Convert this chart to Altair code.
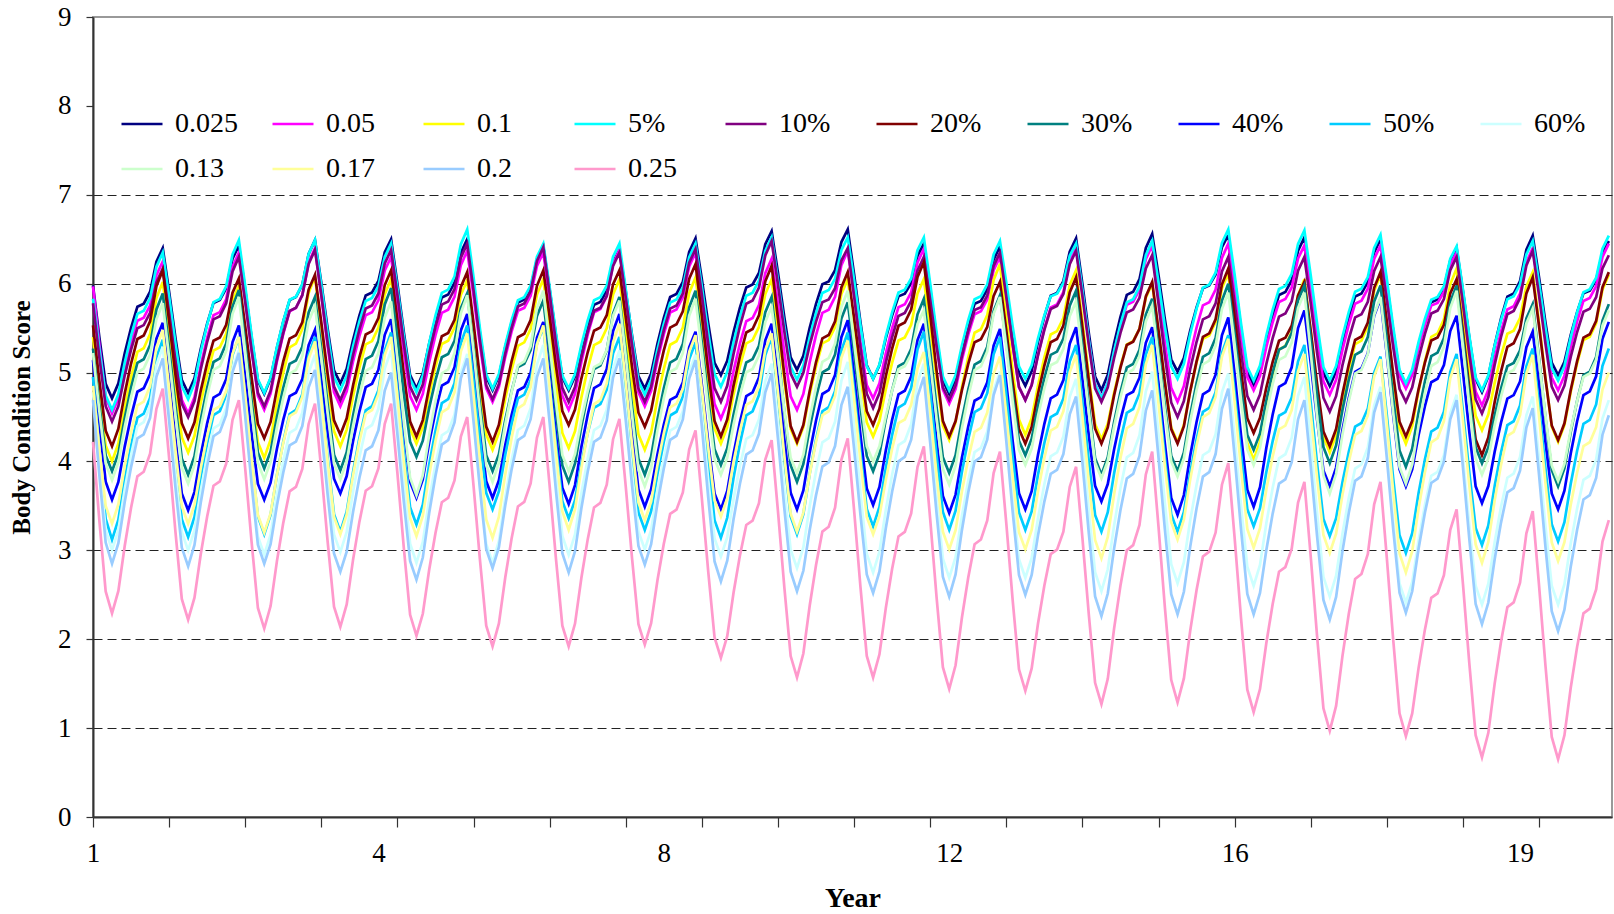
import altair as alt
import pandas as pd

# ---- series (legend order) and colours ----
SERIES = ["0.025", "0.05", "0.1", "5%", "10%", "20%", "30%", "40%", "50%", "60%",
          "0.13", "0.17", "0.2", "0.25"]
COLORS = ["#000080", "#FF00FF", "#FFFF00", "#00FFFF", "#800080", "#800000", "#008080",
          "#0000FF", "#00CCFF", "#CCFFFF", "#CCFFCC", "#FFFF99", "#99CCFF", "#FF99CC"]

# value of each series in the first month
START = [5.98, 5.97, 5.40, 5.83, 5.78, 5.53, 5.27, 5.14, 4.95, 4.78, 5.22, 4.85, 4.69, 4.22]

# yearly minimum (4th month of each year)
T_0025 = [4.71, 4.77, 4.76, 4.88, 4.82, 4.80, 4.80, 4.82, 4.97, 5.03, 4.93, 4.76, 4.85, 4.80, 5.01, 4.86, 4.85, 4.84, 4.78, 4.97]
T_005 = [4.54, 4.54, 4.58, 4.62, 4.58, 4.67, 4.58, 4.62, 4.48, 4.58, 4.71, 4.65, 4.69, 4.72, 4.67, 4.80, 4.75, 4.82, 4.63, 4.80]
T_01 = [4.00, 4.10, 4.04, 4.17, 4.20, 4.13, 4.15, 4.13, 4.20, 4.20, 4.28, 4.24, 4.30, 4.25, 4.22, 4.02, 4.10, 4.20, 4.35, 4.22]
T_5P = [4.58, 4.70, 4.77, 4.80, 4.78, 4.82, 4.82, 4.75, 4.84, 4.92, 4.93, 4.80, 4.93, 4.71, 4.93, 4.91, 4.91, 4.88, 4.80, 4.91]
T_10P = [4.45, 4.50, 4.62, 4.69, 4.69, 4.70, 4.67, 4.67, 4.67, 4.84, 4.60, 4.69, 4.69, 4.67, 4.50, 4.58, 4.56, 4.67, 4.54, 4.69]
T_20P = [4.17, 4.26, 4.26, 4.30, 4.28, 4.22, 4.41, 4.39, 4.28, 4.22, 4.41, 4.28, 4.20, 4.20, 4.20, 4.32, 4.17, 4.28, 4.07, 4.24]
T_30P = [3.89, 3.85, 3.92, 3.90, 4.05, 3.89, 3.77, 3.85, 3.96, 3.77, 3.89, 3.87, 4.07, 3.85, 3.89, 4.13, 3.98, 3.94, 3.98, 3.72]
T_40P = [3.57, 3.45, 3.57, 3.64, 3.59, 3.59, 3.52, 3.49, 3.46, 3.46, 3.51, 3.42, 3.46, 3.55, 3.40, 3.49, 3.72, 3.72, 3.53, 3.46]
T_50P = [3.12, 3.15, 3.18, 3.21, 3.29, 3.46, 3.36, 3.23, 3.14, 3.18, 3.27, 3.23, 3.23, 3.21, 3.21, 3.27, 3.16, 2.97, 3.06, 3.10]
T_60P = [3.00, 3.00, 2.95, 2.98, 2.86, 2.86, 2.95, 3.01, 2.93, 2.80, 2.75, 2.69, 2.69, 2.54, 2.63, 2.60, 2.48, 2.41, 2.39, 2.39]
T_013 = [3.79, 3.75, 3.80, 3.80, 3.62, 3.77, 3.89, 3.72, 3.85, 3.87, 4.00, 3.74, 3.96, 3.81, 3.83, 3.96, 3.64, 3.75, 3.85, 3.78]
T_017 = [3.30, 3.30, 3.20, 3.18, 3.16, 3.14, 3.23, 3.34, 3.38, 3.21, 3.18, 3.01, 3.01, 2.91, 3.12, 3.03, 2.97, 2.75, 2.86, 2.88]
T_02 = [2.85, 2.82, 2.85, 2.76, 2.67, 2.80, 2.75, 2.84, 2.65, 2.54, 2.52, 2.48, 2.50, 2.26, 2.28, 2.28, 2.22, 2.30, 2.17, 2.09]
T_025 = [2.29, 2.22, 2.12, 2.14, 2.04, 1.92, 1.92, 1.94, 1.79, 1.57, 1.57, 1.44, 1.42, 1.27, 1.29, 1.18, 0.97, 0.91, 0.67, 0.65]

# yearly maximum (12th month of each year)
P_0025 = [6.40, 6.43, 6.49, 6.50, 6.50, 6.42, 6.38, 6.51, 6.59, 6.61, 6.45, 6.42, 6.51, 6.56, 6.55, 6.52, 6.50, 6.40, 6.54, 6.48]
P_005 = [6.25, 6.35, 6.40, 6.30, 6.37, 6.35, 6.38, 6.35, 6.28, 6.37, 6.39, 6.30, 6.40, 6.43, 6.45, 6.43, 6.43, 6.35, 6.40, 6.45]
P_01 = [6.02, 5.98, 6.08, 6.05, 6.04, 6.05, 6.05, 6.07, 6.05, 6.05, 6.05, 6.22, 6.15, 6.00, 6.12, 6.05, 6.10, 6.17, 6.13, 6.10]
P_5P = [6.35, 6.49, 6.49, 6.45, 6.61, 6.45, 6.45, 6.45, 6.52, 6.52, 6.52, 6.48, 6.45, 6.48, 6.61, 6.60, 6.55, 6.42, 6.48, 6.54]
P_10P = [6.17, 6.30, 6.38, 6.38, 6.45, 6.41, 6.35, 6.39, 6.48, 6.40, 6.30, 6.35, 6.37, 6.32, 6.30, 6.30, 6.30, 6.30, 6.37, 6.32]
P_20P = [6.15, 6.06, 6.10, 6.15, 6.13, 6.15, 6.15, 6.22, 6.20, 6.13, 6.24, 6.02, 6.07, 6.02, 6.17, 6.02, 6.13, 6.05, 6.07, 6.13]
P_30P = [5.89, 5.93, 5.85, 5.95, 5.89, 5.81, 5.85, 5.92, 5.85, 5.79, 5.83, 5.87, 5.92, 5.83, 6.00, 5.98, 5.98, 5.98, 5.77, 5.77]
P_40P = [5.56, 5.53, 5.48, 5.60, 5.66, 5.57, 5.66, 5.46, 5.55, 5.59, 5.55, 5.49, 5.51, 5.51, 5.62, 5.70, 5.83, 5.64, 5.46, 5.57]
P_50P = [5.37, 5.40, 5.40, 5.45, 5.53, 5.51, 5.40, 5.34, 5.40, 5.45, 5.46, 5.40, 5.31, 5.40, 5.42, 5.31, 5.18, 5.21, 5.27, 5.27]
P_60P = [5.29, 5.25, 5.20, 5.25, 5.21, 5.31, 5.25, 5.20, 5.10, 5.12, 5.10, 5.01, 4.93, 5.01, 4.99, 4.95, 4.84, 4.75, 4.73, 4.69]
P_013 = [5.78, 5.85, 5.75, 5.80, 5.87, 5.92, 5.81, 5.83, 5.74, 5.92, 5.70, 5.85, 5.80, 5.75, 5.90, 5.90, 5.85, 5.92, 5.72, 5.70]
P_017 = [5.48, 5.40, 5.35, 5.40, 5.44, 5.53, 5.55, 5.42, 5.44, 5.36, 5.23, 5.18, 5.20, 5.31, 5.38, 5.21, 5.15, 5.15, 5.20, 5.00]
P_02 = [5.16, 5.22, 5.03, 5.00, 5.16, 5.16, 5.16, 5.14, 4.99, 4.84, 4.95, 4.97, 4.73, 4.80, 4.82, 4.69, 4.78, 4.69, 4.60, 4.52]
P_025 = [4.82, 4.69, 4.65, 4.65, 4.50, 4.50, 4.48, 4.35, 4.24, 4.26, 4.17, 4.11, 3.94, 4.11, 3.98, 3.77, 3.77, 3.46, 3.44, 3.34]

TROUGHS = [T_0025, T_005, T_01, T_5P, T_10P, T_20P, T_30P, T_40P, T_50P, T_60P, T_013, T_017, T_02, T_025]
PEAKS = [P_0025, P_005, P_01, P_5P, P_10P, P_20P, P_30P, P_40P, P_50P, P_60P, P_013, P_017, P_02, P_025]

# position of months 1-3 between previous maximum and the minimum
FALL = [0.70, 0.38, 0.09]
# position of months 5-11 between the minimum and the maximum
RISE = [0.10, 0.30, 0.47, 0.61, 0.63, 0.71, 0.91]

N_YEARS = 20
X_TICKS = list(range(0, 12 * N_YEARS, 12))
X_LABELS = [0, 45, 90, 135, 180, 225]
Y_TICKS = list(range(0, 10))

rows = []
for name, start, tr, pk in zip(SERIES, START, TROUGHS, PEAKS):
    vals = []
    for j in range(N_YEARS):
        lo, hi = tr[j], pk[j]
        prev = lo + (start - lo) / FALL[0] if j == 0 else pk[j - 1]
        for f in FALL:
            vals.append(lo + f * (prev - lo))
        vals.append(lo)
        for f in RISE:
            vals.append(lo + f * (hi - lo))
        vals.append(hi)
    for k, v in enumerate(vals):
        rows.append({"series": name, "month": k, "bcs": round(v, 3)})

df = pd.DataFrame(rows)

FONT = "Liberation Serif"

x_axis = alt.Axis(
    values=sorted(set(X_TICKS + X_LABELS)),
    labelExpr="datum.value % 45 == 0 ? '' + (floor(datum.value / 12) + 1) : ''",
    tickOpacity={"condition": {"test": "datum.value % 12 == 0", "value": 1}, "value": 0},
    tickSize=10, tickColor="#333333", tickWidth=1.2,
    domainColor="#333333", domainWidth=2,
    grid=False, labelOverlap=False, labelFlush=False,
    labelFont=FONT, labelFontSize=27, labelPadding=13, labelColor="black",
    title="Year", titleFont=FONT, titleFontSize=28, titleFontWeight="bold",
    titlePadding=18, titleColor="black",
)

y_axis = alt.Axis(
    values=Y_TICKS,
    grid=True, gridDash=[9, 5], gridColor="#222222", gridWidth=1,
    gridOpacity={"condition": {"test": "datum.value >= 1 && datum.value <= 7", "value": 1}, "value": 0},
    tickSize=7, tickColor="#333333", tickWidth=1.2,
    domainColor="#333333", domainWidth=2,
    labelFont=FONT, labelFontSize=27, labelPadding=15, labelColor="black", labelFlush=False,
    title="Body Condition Score", titleFont=FONT, titleFontSize=25, titleFontWeight="bold",
    titlePadding=23, titleColor="black",
)

legend = alt.Legend(
    title=None, orient="none", legendX=25, legendY=83, columns=10, direction="horizontal",
    gridAlign="all",
    symbolType="stroke", symbolSize=1681, symbolStrokeWidth=2.5,
    labelFont=FONT, labelFontSize=28, labelOffset=11, labelLimit=300, labelColor="black",
    columnPadding=29, rowPadding=9, padding=2, fillColor="white",
)

chart = alt.Chart(df).mark_line(strokeWidth=2.7).encode(
    x=alt.X("month:Q", scale=alt.Scale(domain=[0, 239.5], nice=False, zero=False), axis=x_axis),
    y=alt.Y("bcs:Q", scale=alt.Scale(domain=[0, 9], nice=False, zero=True), axis=y_axis),
    color=alt.Color("series:N", sort=SERIES, scale=alt.Scale(domain=SERIES, range=COLORS), legend=legend),
).properties(
    width=1519, height=800,
    padding={"left": 93, "top": 17, "right": 2, "bottom": 97},
    autosize=alt.AutoSizeParams(type="none"),
    background="white",
).configure_view(stroke="#999999", strokeWidth=2)

chart.save("out.html", embed_options={"renderer": "svg", "actions": False})
